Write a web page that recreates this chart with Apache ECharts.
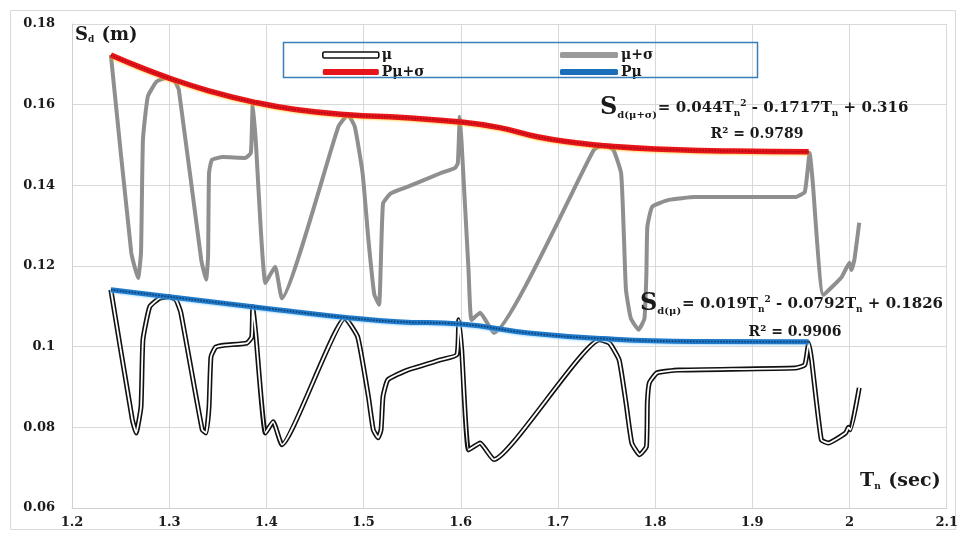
<!DOCTYPE html>
<html>
<head>
<meta charset="utf-8">
<script src="https://cdn.jsdelivr.net/npm/echarts@6/dist/echarts.min.js"></script>
<style>
  html, body { margin: 0; padding: 0; background: #fff; }
  #chart { width: 961px; height: 539px; }
</style>
</head>
<body>
<div id="chart"></div>
<script>
// Spectral displacement Sd (m) versus period Tn (sec)

// μ+σ curve
const muSigmaT = [1.240, 1.261, 1.268, 1.271, 1.273, 1.278, 1.287, 1.297, 1.305, 1.310, 1.333, 1.338, 1.340, 1.341, 1.344, 1.355, 1.378, 1.384, 1.386, 1.389, 1.399, 1.409, 1.416, 1.474, 1.484, 1.491, 1.499, 1.505, 1.511, 1.516, 1.520, 1.528, 1.545, 1.579, 1.594, 1.597, 1.599, 1.601, 1.608, 1.611, 1.620, 1.634, 1.737, 1.747, 1.757, 1.765, 1.768, 1.770, 1.775, 1.783, 1.789, 1.791, 1.792, 1.797, 1.814, 1.841, 1.910, 1.944, 1.954, 1.959, 1.962, 1.973, 1.992, 2.000, 2.002, 2.005, 2.010];
const muSigmaS = [0.1723, 0.1233, 0.1170, 0.1233, 0.1513, 0.1620, 0.1657, 0.1666, 0.1661, 0.1636, 0.1215, 0.1166, 0.1223, 0.1431, 0.1463, 0.1470, 0.1468, 0.1480, 0.1604, 0.1513, 0.1158, 0.1198, 0.1120, 0.1545, 0.1575, 0.1545, 0.1430, 0.1265, 0.1130, 0.1104, 0.1355, 0.1380, 0.1396, 0.1430, 0.1443, 0.1455, 0.1570, 0.1500, 0.1190, 0.1066, 0.1084, 0.1034, 0.1488, 0.1500, 0.1488, 0.1430, 0.1265, 0.1141, 0.1070, 0.1042, 0.1070, 0.1180, 0.1297, 0.1347, 0.1364, 0.1371, 0.1371, 0.1371, 0.1384, 0.1480, 0.1413, 0.1128, 0.1173, 0.1208, 0.1190, 0.1215, 0.1307];

// μ curve
const muT = [1.240, 1.262, 1.266, 1.271, 1.273, 1.280, 1.290, 1.300, 1.307, 1.312, 1.334, 1.338, 1.341, 1.343, 1.348, 1.358, 1.380, 1.385, 1.386, 1.389, 1.399, 1.407, 1.416, 1.481, 1.494, 1.505, 1.510, 1.515, 1.518, 1.520, 1.525, 1.545, 1.579, 1.596, 1.598, 1.601, 1.608, 1.620, 1.634, 1.743, 1.753, 1.763, 1.770, 1.776, 1.784, 1.791, 1.792, 1.794, 1.802, 1.824, 1.944, 1.954, 1.958, 1.961, 1.971, 1.978, 1.996, 1.999, 2.001, 2.010];
const muS = [0.1141, 0.0820, 0.0786, 0.0851, 0.1017, 0.1099, 0.1120, 0.1124, 0.1116, 0.1084, 0.0794, 0.0786, 0.0851, 0.0975, 0.0999, 0.1004, 0.1009, 0.1024, 0.1099, 0.1034, 0.0786, 0.0814, 0.0757, 0.1071, 0.1024, 0.0876, 0.0794, 0.0774, 0.0794, 0.0876, 0.0918, 0.0942, 0.0967, 0.0980, 0.1067, 0.0991, 0.0744, 0.0761, 0.0720, 0.1017, 0.1009, 0.0967, 0.0861, 0.0761, 0.0732, 0.0752, 0.0861, 0.0910, 0.0935, 0.0942, 0.0947, 0.0955, 0.1009, 0.0967, 0.0769, 0.0761, 0.0786, 0.0800, 0.0794, 0.0898];

// Pμ+σ envelope
const pMuSigmaT = [1.24, 1.27, 1.30, 1.34, 1.386, 1.43, 1.484, 1.54, 1.60, 1.64, 1.68, 1.72, 1.747, 1.80, 1.88, 1.958];
const pMuSigmaS = [0.1723, 0.1693, 0.1666, 0.1635, 0.1607, 0.1588, 0.1575, 0.1568, 0.1557, 0.1543, 0.1520, 0.1505, 0.1498, 0.1490, 0.1485, 0.1483];

// Pμ envelope
const pMuT = [1.24, 1.30, 1.386, 1.484, 1.535, 1.60, 1.67, 1.747, 1.84, 1.958];
const pMuS = [0.1141, 0.1124, 0.1099, 0.1072, 0.1062, 0.1056, 0.1034, 0.1020, 0.1013, 0.1012];

// Axis tick labels
const xTicks = [1.2, 1.3, 1.4, 1.5, 1.6, 1.7, 1.8, 1.9, 2.0, 2.1];
const xTickLabels = ['1.2', '1.3', '1.4', '1.5', '1.6', '1.7', '1.8', '1.9', '2', '2.1'];
const yTicks = [0.06, 0.08, 0.10, 0.12, 0.14, 0.16, 0.18];
const yTickLabels = ['0.06', '0.08', '0.1', '0.12', '0.14', '0.16', '0.18'];

const zip = (a, b) => a.map((v, i) => [v, b[i]]);
const pick = (ticks, labels) => v => {
  const i = ticks.findIndex(t => Math.abs(t - v) < 1e-6);
  return i >= 0 ? labels[i] : '';
};

const SERIF = '"DejaVu Serif", "Liberation Serif", serif';
const TXT = '#1a1a1a';

// rich-text styles for the fitted equations
const eqRich = {
  S: { fontFamily: SERIF, fontWeight: 'bold', fontSize: 24, fill: TXT, verticalAlign: 'middle' },
  d: { fontFamily: SERIF, fontWeight: 'bold', fontSize: 10, fill: TXT, verticalAlign: 'middle', padding: [14, 1, 0, 0] },
  t: { fontFamily: SERIF, fontWeight: 'bold', fontSize: 15, fill: TXT, verticalAlign: 'middle', lineHeight: 30 },
  n: { fontFamily: SERIF, fontWeight: 'bold', fontSize: 9, fill: TXT, verticalAlign: 'middle', padding: [12, 0, 0, 0] },
  p: { fontFamily: SERIF, fontWeight: 'bold', fontSize: 9, fill: TXT, verticalAlign: 'middle', padding: [0, 0, 9, 0] }
};

const chart = echarts.init(document.getElementById('chart'), null, { renderer: 'canvas' });

const lineBase = { type: 'line', showSymbol: false, symbol: 'none', smooth: 0.14, z: 3 };

chart.setOption({
  animation: false,
  backgroundColor: '#fff',
  grid: { left: 72, right: 8, top: 24, bottom: 31, containLabel: false },
  xAxis: {
    type: 'value', min: 1.2, max: 2.1, interval: 0.1,
    axisLine: { show: true, lineStyle: { color: '#d0d0d0', width: 1 } },
    axisTick: { show: false },
    splitLine: { show: true, lineStyle: { color: '#d9d9d9', width: 1 } },
    axisLabel: {
      formatter: pick(xTicks, xTickLabels),
      fontFamily: SERIF, fontWeight: 'bold', fontSize: 13, color: TXT, margin: 8
    }
  },
  yAxis: {
    type: 'value', min: 0.06, max: 0.18, interval: 0.02,
    axisLine: { show: true, lineStyle: { color: '#d0d0d0', width: 1 } },
    axisTick: { show: false },
    splitLine: { show: true, lineStyle: { color: '#d9d9d9', width: 1 } },
    axisLabel: {
      formatter: pick(yTicks, yTickLabels),
      fontFamily: SERIF, fontWeight: 'bold', fontSize: 13, color: TXT, margin: 17
    }
  },
  legend: [
    {
      left: 317, top: 43, orient: 'vertical', itemGap: 3,
      itemWidth: 56, itemHeight: 6,
      textStyle: { fontFamily: SERIF, fontWeight: 'bold', fontSize: 14, color: TXT, padding: [0, 0, 0, -2] },
      data: [
        { name: 'μ', icon: 'roundRect', itemStyle: { color: '#fff', borderColor: '#111', borderWidth: 1.6 } },
        { name: 'Pμ+σ', icon: 'roundRect', itemStyle: { color: '#e8141b' } }
      ]
    },
    {
      left: 555, top: 43, orient: 'vertical', itemGap: 3,
      itemWidth: 58, itemHeight: 6,
      textStyle: { fontFamily: SERIF, fontWeight: 'bold', fontSize: 14, color: TXT, padding: [0, 0, 0, -2] },
      data: [
        { name: 'μ+σ', icon: 'roundRect', itemStyle: { color: '#9a9a9a' } },
        { name: 'Pμ', icon: 'roundRect', itemStyle: { color: '#1a6fb8' } }
      ]
    }
  ],
  series: [
    Object.assign({}, lineBase, {
      name: 'μ+σ', data: zip(muSigmaT, muSigmaS),
      lineStyle: { color: '#8f8f8f', width: 4 }, itemStyle: { color: '#9a9a9a' }
    }),
    Object.assign({}, lineBase, {
      name: 'μ', data: zip(muT, muS),
      lineStyle: { color: '#111', width: 5 }, itemStyle: { color: '#111' }
    }),
    Object.assign({}, lineBase, {
      name: 'μ core', data: zip(muT, muS), z: 4,
      lineStyle: { color: '#fff', width: 1.8 }, itemStyle: { color: '#fff' }
    }),
    Object.assign({}, lineBase, {
      name: 'Pμ+σ', data: zip(pMuSigmaT, pMuSigmaS), smooth: 0.5, z: 5,
      lineStyle: { color: '#e8141b', width: 5.5, shadowColor: 'rgba(255,190,0,0.6)', shadowBlur: 2, shadowOffsetY: 1 },
      itemStyle: { color: '#e8141b' }
    }),
    Object.assign({}, lineBase, {
      name: 'Pμ+σ trend', data: zip(pMuSigmaT, pMuSigmaS), smooth: 0.5, z: 6,
      lineStyle: { color: '#a30d10', width: 1.6, type: [1.5, 1.5] }, itemStyle: { color: '#a30d10' }
    }),
    Object.assign({}, lineBase, {
      name: 'Pμ', data: zip(pMuT, pMuS), smooth: 0.5, z: 5,
      lineStyle: { color: '#1f78c8', width: 5, shadowColor: 'rgba(120,200,255,0.6)', shadowBlur: 2, shadowOffsetY: 1 },
      itemStyle: { color: '#1a6fb8' }
    }),
    Object.assign({}, lineBase, {
      name: 'Pμ trend', data: zip(pMuT, pMuS), smooth: 0.5, z: 6,
      lineStyle: { color: '#0d3e6e', width: 1.6, type: [1.5, 1.5] }, itemStyle: { color: '#0d3e6e' }
    })
  ],
  graphic: [
    // outer chart frame
    { type: 'rect', silent: true, z: -1, shape: { x: 10.5, y: 10.5, width: 945, height: 519 },
      style: { fill: null, stroke: '#d9d9d9', lineWidth: 1 } },
    // legend box
    { type: 'rect', silent: true, z: 10, shape: { x: 283.5, y: 42.5, width: 474, height: 35 },
      style: { fill: null, stroke: '#3a7fb8', lineWidth: 1.5 } },
    // y axis title
    { type: 'text', silent: true, z: 10, left: 75, top: 26,
      style: {
        text: '{b|S}{s|d}{b| (m)}',
        rich: {
          b: { fontFamily: SERIF, fontWeight: 'bold', fontSize: 18, fill: TXT, verticalAlign: 'middle', lineHeight: 24 },
          s: { fontFamily: SERIF, fontWeight: 'bold', fontSize: 9, fill: TXT, verticalAlign: 'middle', padding: [9, 1, 0, 0] }
        }
      } },
    // x axis title
    { type: 'text', silent: true, z: 10, left: 860, top: 472,
      style: {
        text: '{b|T}{s|n}{b| (sec)}',
        rich: {
          b: { fontFamily: SERIF, fontWeight: 'bold', fontSize: 19, fill: TXT, verticalAlign: 'middle', lineHeight: 26 },
          s: { fontFamily: SERIF, fontWeight: 'bold', fontSize: 9, fill: TXT, verticalAlign: 'middle', padding: [10, 1, 0, 0] }
        }
      } },
    // upper fit equation
    { type: 'text', silent: true, z: 10, left: 600, top: 96,
      style: { text: '{S|S}{d|d(μ+σ)}{t|= 0.044T}{n|n}{p|2}{t| - 0.1717T}{n|n}{t| + 0.316}', rich: eqRich } },
    { type: 'text', silent: true, z: 10, x: 757, y: 134,
      style: { text: 'R² = 0.9789', font: 'bold 14px ' + SERIF, fill: TXT, align: 'center', verticalAlign: 'middle' } },
    // lower fit equation
    { type: 'text', silent: true, z: 10, left: 640, top: 292,
      style: { text: '{S|S}{d|d(μ)}{t|= 0.019T}{n|n}{p|2}{t| - 0.0792T}{n|n}{t| + 0.1826}', rich: eqRich } },
    { type: 'text', silent: true, z: 10, x: 795, y: 332,
      style: { text: 'R² = 0.9906', font: 'bold 14px ' + SERIF, fill: TXT, align: 'center', verticalAlign: 'middle' } }
  ]
});
</script>
</body>
</html>
